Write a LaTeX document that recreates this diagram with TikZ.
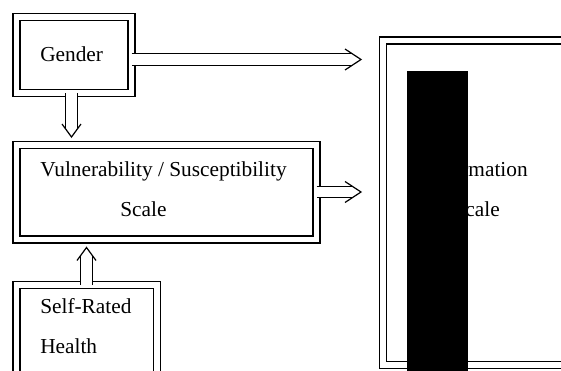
\documentclass[tikz,border=0pt]{standalone}
\usepackage{fontspec}
\setmainfont{Liberation Serif}
\usepackage{tikz}
\usetikzlibrary{arrows,shapes}
\tikzstyle{box}=[rectangle, draw, line width=0.9pt, double, double distance=4.3pt, inner sep=0pt, outer sep=0pt]
\tikzstyle{shaft}=[draw, line width=0.9pt, double, double distance=7.7pt, line cap=butt]
\tikzstyle{head}=[line width=0.9pt, line join=miter]
\tikzstyle{txt}=[inner sep=0pt, font=\fontsize{16}{19}\selectfont]

\begin{document}
\begin{tikzpicture}[x=0.75pt, y=-0.75pt]
      \useasboundingbox (0,0) rectangle (561,371);
      \node(gender) [box, minimum width=86.25pt, minimum height=57pt] at (74, 55){};
      \node(vuln) [box, minimum width=225pt, minimum height=70.9pt] at (166.5, 192.25){};
      \node(self) [box, minimum width=105.4pt, minimum height=101.25pt] at (86.75, 352.5){};
      \node(info) [box, minimum width=237.75pt, minimum height=243.4pt] at (541.5, 202.75){};
      \node(genderTxt) [txt, anchor=base west] at (40, 61){Gender};
      \node(vulnTxt) [txt, anchor=base west] at (40, 176){Vulnerability / Susceptibility};
      \node(scaleTxt) [txt, anchor=base west] at (120, 216){Scale};
      \node(selfTxt) [txt, anchor=base west] at (40, 313){Self-Rated};
      \node(healthTxt) [txt, anchor=base west] at (40, 353){Health};
      \node(infoTxt) [txt, anchor=base east] at (528, 176){rmation};
      \node(infoScaleTxt) [txt, anchor=base east] at (500, 216){cale};
      \coordinate(gTip) at (361, 59.5);
      \coordinate(gEnd) at (352, 59.5);
      \coordinate(dTip) at (71.5, 137);
      \coordinate(dEnd) at (71.5, 129);
      \coordinate(vTip) at (361, 192);
      \coordinate(vEnd) at (352, 192);
      \coordinate(uTip) at (86.5, 247.5);
      \coordinate(uEnd) at (86.5, 255.5);
      \draw[shaft] (gender.east |- gTip) to (gEnd);
      \draw[head] ([shift={(-16,-10.5)}]gTip) -- (gTip) -- ([shift={(-16,10.5)}]gTip);
      \draw[shaft] (gender.south -| dTip) to (dEnd);
      \draw[head] ([shift={(-9.5,-13)}]dTip) -- (dTip) -- ([shift={(9.5,-13)}]dTip);
      \draw[shaft] (vuln.east |- vTip) to (vEnd);
      \draw[head] ([shift={(-16,-10.5)}]vTip) -- (vTip) -- ([shift={(-16,10.5)}]vTip);
      \draw[shaft] (self.north -| uTip) to (uEnd);
      \draw[head] ([shift={(-9.5,13)}]uTip) -- (uTip) -- ([shift={(9.5,13)}]uTip);
      \fill (407, 71) rectangle (468, 380);
    \end{tikzpicture}
\end{document}
